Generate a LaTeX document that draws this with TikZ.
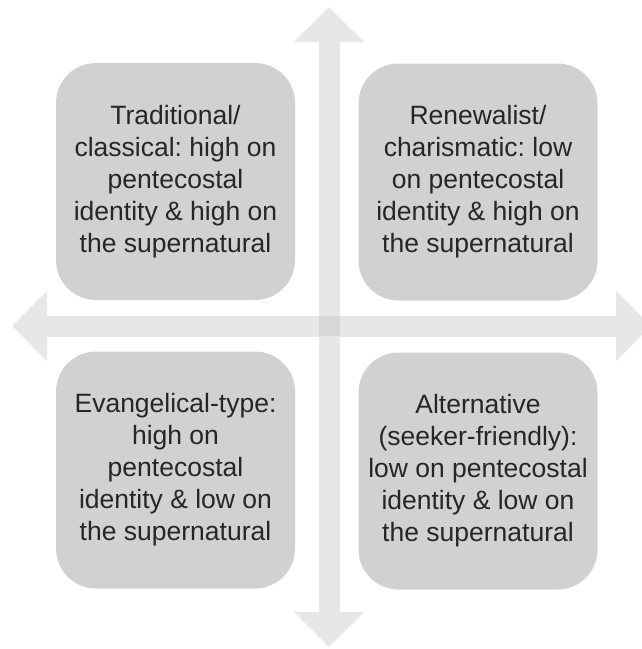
\documentclass[tikz,border=0pt]{standalone}
\usepackage{fontspec}
\setmainfont{Liberation Sans}
\usepackage{xcolor}
\usetikzlibrary{arrows.meta}
\frenchspacing

\definecolor{boxgray}{HTML}{D1D1D2}
\definecolor{axisgray}{HTML}{E7E7E7}
\definecolor{crossgray}{HTML}{D7D7D7}
\definecolor{textgray}{HTML}{262626}

\begin{document}
\begin{tikzpicture}[x=1pt,y=-1pt,
    quad/.style={fill=boxgray,rounded corners=40pt,minimum width=239pt,minimum height=237pt,
      inner sep=0pt,align=center,text=textgray,font=\fontsize{26.5}{32}\selectfont},
    axis/.style={axisgray,line width=21pt,{Triangle[width=68pt,length=35pt]}-{Triangle[width=68pt,length=35pt]}}]
  \useasboundingbox (0,0) rectangle (642,649);
  \clip (0,0) rectangle (642,649);
    % axes
    \coordinate (top) at (329,7);
    \coordinate (bottom) at (329,647);
    \coordinate (left) at (12,326);
    \coordinate (right) at (651,326);
    \coordinate (mid) at (329,326);
    \draw[axis] (left) -- (right);
    \draw[axis] (top) -- (bottom);
    \fill[crossgray] ([shift={(-10.5,-10)}]mid) rectangle ([shift={(10.5,10)}]mid);
    % quadrants
    \node[quad] (tl) at (175.5,181.5) {Traditional/\\classical: high on\\pentecostal\\identity \& high on\\the supernatural};
    \node[quad] (tr) at (478,182) {Renewalist/\\charismatic: low\\on pentecostal\\identity \& high on\\the supernatural};
    \node[quad] (bl) at (175.5,470) {Evangelical-type:\\high on\\pentecostal\\identity \& low on\\the supernatural};
    \node[quad] (br) at (478,471) {Alternative\\(seeker-friendly):\\low on pentecostal\\identity \& low on\\the supernatural};
  \end{tikzpicture}
\end{document}
